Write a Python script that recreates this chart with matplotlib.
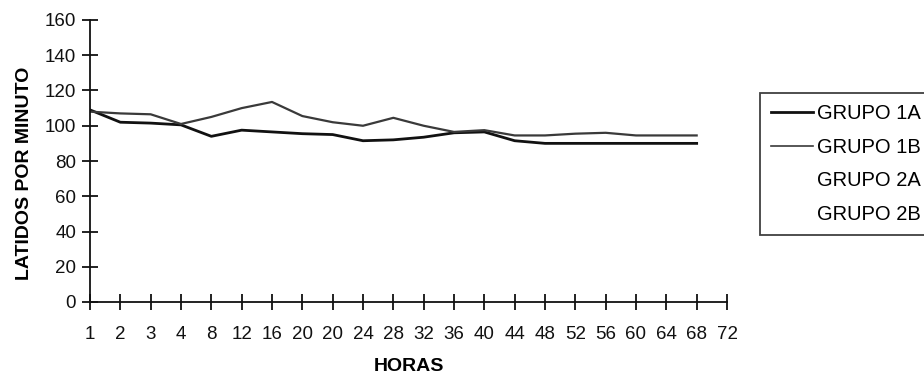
import matplotlib
matplotlib.use("Agg")
import matplotlib.pyplot as plt
import numpy as np

plt.rcParams['font.family'] = ['Liberation Sans', 'DejaVu Sans']

hours = ["1", "2", "3", "4", "8", "12", "16", "20", "20", "24", "28", "32",
         "36", "40", "44", "48", "52", "56", "60", "64", "68", "72"]
grupo_1a = [109, 102, 101.5, 100.5, 94, 97.5, 96.5, 95.5, 95, 91.5, 92, 93.5,
            96, 96.5, 91.5, 90, 90, 90, 90, 90, 90]
grupo_1b = [108, 107, 106.5, 101, 105, 110, 113.5, 105.5, 102, 100, 104.5, 100,
            96.5, 97.5, 94.5, 94.5, 95.5, 96, 94.5, 94.5, 94.5]
grupo_2a = []
grupo_2b = []
y_ticks = [0, 20, 40, 60, 80, 100, 120, 140, 160]

fig = plt.figure(figsize=(9.24, 3.77), dpi=100)
ax = fig.add_axes([90/924, 1-302/377, (727-90)/924, (302-20)/377])

x = np.arange(len(hours))
ax.plot(x[:len(grupo_1a)], grupo_1a, color='#111111', lw=2.0, label='GRUPO 1A')
ax.plot(x[:len(grupo_1b)], grupo_1b, color='#3a3a3a', lw=1.6, label='GRUPO 1B')
ax.plot(x[:len(grupo_2a)], grupo_2a, color='white', lw=1.5, label='GRUPO 2A')
ax.plot(x[:len(grupo_2b)], grupo_2b, color='white', lw=1.5, label='GRUPO 2B')

ax.set_xlim(0, len(hours) - 1)
ax.set_ylim(0, 160)
ax.set_xticks(x)
ax.set_xticklabels(hours)
ax.set_yticks(y_ticks)
ax.spines['top'].set_visible(False)
ax.spines['right'].set_visible(False)
for s in ('left', 'bottom'):
    ax.spines[s].set_linewidth(1.3)
    ax.spines[s].set_color('#111111')
ax.tick_params(axis='both', direction='inout', length=12, width=1.3,
               labelsize=13.5, colors='#111111')
ax.tick_params(axis='x', pad=11)
ax.tick_params(axis='y', pad=4)

ax.set_xlabel('HORAS', fontsize=14, fontweight='bold', labelpad=11)
ax.set_ylabel('LATIDOS POR MINUTO', fontsize=14, fontweight='bold')
ax.yaxis.set_label_coords(-0.089, 0.457)

leg = fig.legend(loc='upper left', bbox_to_anchor=(760/924, 1-93/377),
                 frameon=True, fancybox=False, edgecolor='#111111',
                 fontsize=14.5, handlelength=2.1, handletextpad=0.2,
                 borderaxespad=0, labelspacing=0.72, borderpad=0.55)
leg.get_frame().set_linewidth(1.3)
leg.get_lines()[1].set_linewidth(1.2)

fig.savefig('out.png', dpi=100, facecolor='white')
